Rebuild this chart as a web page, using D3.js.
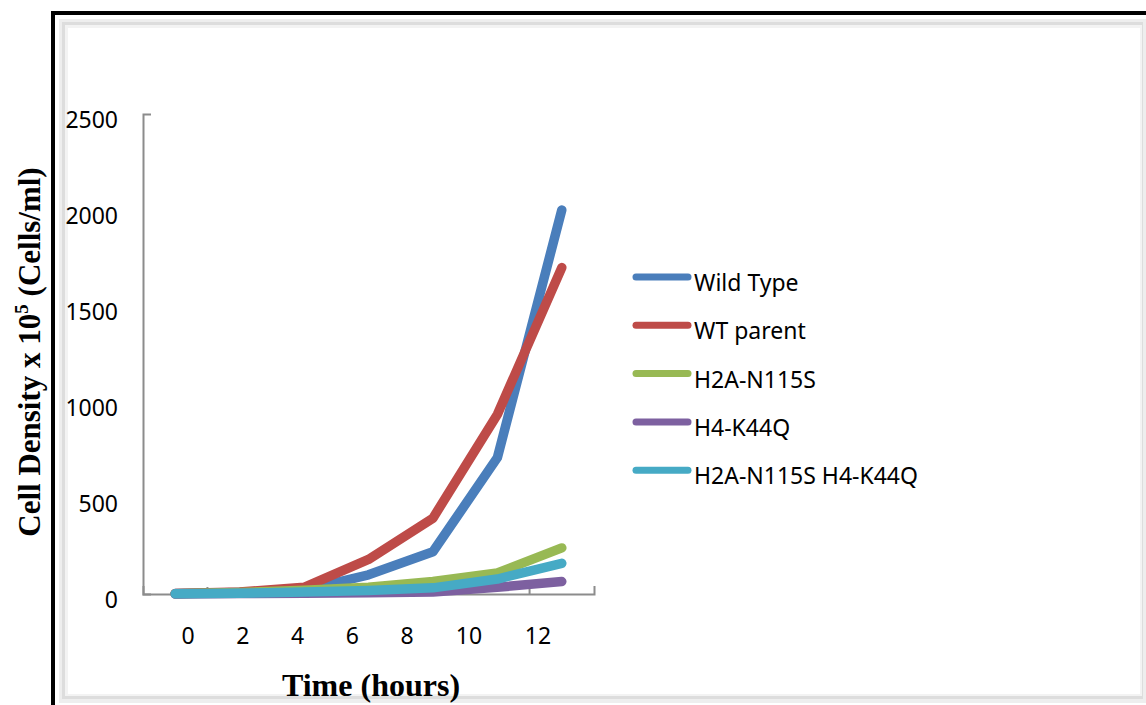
<!DOCTYPE html>
<html>
<head>
<meta charset="utf-8">
<script src="https://cdn.jsdelivr.net/npm/d3@7"></script>
<style>
  body { margin: 0; background: #fff; }
  svg { display: block; }
</style>
</head>
<body>
<svg id="growth_chart"></svg>
<script>
// growth curve data, cell density x 10^5 (cells/ml)
const hours = [0, 2, 4, 6, 8, 10, 12]
const seriesNames = ["Wild Type", "WT parent", "H2A-N115S", "H4-K44Q", "H2A-N115S H4-K44Q"]
const wildType = [2, 8, 20, 100, 220, 710, 2000]
const wtParent = [2, 10, 35, 180, 395, 935, 1700]
const h2aN115S = [1, 8, 20, 35, 65, 110, 240]
const h4K44Q = [0, 2, 4, 6, 10, 35, 65]
const h2aH4 = [1, 4, 10, 18, 32, 78, 160]
const yTicks = [0, 500, 1000, 1500, 2000, 2500]
const seriesColors = ["#4a7ebb", "#be4b48", "#98b954", "#7d60a0", "#46aac5"]

const allSeries = [wildType, wtParent, h2aN115S, h4K44Q, h2aH4]

var W = 1146, H = 705

var svg = d3.select("#growth_chart")
  .attr("width", W)
  .attr("height", H)

// --- frame: black page border + excel style grey chart border
svg.append("rect")
  .attr("x", 53).attr("y", 13)
  .attr("width", W + 20).attr("height", H + 20)
  .attr("fill", "none")
  .attr("stroke", "#000")
  .attr("stroke-width", 4)

svg.append("rect")
  .attr("x", 59).attr("y", 19)
  .attr("width", W - 59).attr("height", 684)
  .attr("fill", "#eeeeee")
svg.append("rect")
  .attr("x", 62).attr("y", 22)
  .attr("width", W - 65).attr("height", 677)
  .attr("fill", "#dddddd")
svg.append("rect")
  .attr("x", 65).attr("y", 25)
  .attr("width", W - 69).attr("height", 671)
  .attr("fill", "#f3f3f3")
svg.append("rect")
  .attr("x", 68).attr("y", 28)
  .attr("width", W - 74).attr("height", 666)
  .attr("fill", "#ffffff")

// --- scales
var x = d3.scaleBand()
  .domain(hours)
  .range([143, 594])

var xLabel = d3.scaleLinear()   // labels sit in a text box, not centred on the points
  .domain([0, 8, 10, 12])
  .range([188, 407, 469, 538])

var y = d3.scaleLinear()
  .domain([0, 2500])
  .range([594, 114])

var cx = d => x(d) + x.bandwidth() / 2

// --- axes
var axisColor = "#8c8c8c"

var yAxis = svg.append("g")
  .attr("class", "yAxis")
  .attr("transform", "translate(143,0)")
  .call(d3.axisLeft(y).tickValues([]).tickSizeOuter(-8))
yAxis.select(".domain").attr("stroke", axisColor).attr("stroke-width", 2)

var xAxis = svg.append("g")
  .attr("class", "xAxis")
  .attr("transform", "translate(0,594)")
  .call(d3.axisBottom(x).tickValues([]).tickSizeOuter(-8))
xAxis.select(".domain").attr("stroke", axisColor).attr("stroke-width", 2)

// the two minor tick marks excel left on the category axis
xAxis.selectAll("line.cat")
  .data([hours[1], hours[6]])
  .enter().append("line")
  .attr("class", "cat")
  .attr("x1", d => x(d)).attr("x2", d => x(d))
  .attr("y1", 0).attr("y2", -7)
  .attr("stroke", axisColor)
  .attr("stroke-width", 2)

// tick labels
svg.append("g").selectAll("text")
  .data(yTicks)
  .enter().append("text")
  .attr("x", 118)
  .attr("y", d => y(d) + 14)
  .attr("text-anchor", "end")
  .attr("font-family", "Noto Sans, sans-serif")
  .attr("font-size", 23)
  .attr("fill", "#000")
  .text(d => d)

svg.append("g").selectAll("text")
  .data(hours)
  .enter().append("text")
  .attr("x", d => xLabel(d))
  .attr("y", 644)
  .attr("text-anchor", "middle")
  .attr("font-family", "Noto Sans, sans-serif")
  .attr("font-size", 23)
  .attr("fill", "#000")
  .text(d => d)

// axis titles
svg.append("text")
  .attr("x", 371)
  .attr("y", 696)
  .attr("text-anchor", "middle")
  .attr("font-family", "Liberation Serif, Times New Roman, serif")
  .attr("font-weight", "bold")
  .attr("font-size", 32)
  .text("Time (hours)")

var yTitle = svg.append("text")
  .attr("transform", "translate(40,352) rotate(-90)")
  .attr("text-anchor", "middle")
  .attr("font-family", "Liberation Serif, Times New Roman, serif")
  .attr("font-weight", "bold")
  .attr("font-size", 31)
yTitle.append("tspan").text("Cell Density x 10")
yTitle.append("tspan").attr("dy", -12).attr("font-size", 19).text("5")
yTitle.append("tspan").attr("dy", 12).text(" (Cells/ml)")

// --- lines
var line = d3.line()
  .x((d, i) => cx(hours[i]))
  .y(d => y(d))

svg.append("g").selectAll("path")
  .data(allSeries)
  .enter().append("path")
  .attr("d", d => line(d))
  .attr("fill", "none")
  .attr("stroke", (d, i) => seriesColors[i])
  .attr("stroke-width", 9.5)
  .attr("stroke-linecap", "round")
  .attr("stroke-linejoin", "round")

// --- legend
var legend = svg.append("g").selectAll("g")
  .data(seriesNames)
  .enter().append("g")
  .attr("transform", (d, i) => "translate(0," + (277 + i * 48.3) + ")")

legend.append("line")
  .attr("x1", 636).attr("x2", 688)
  .attr("y1", 0).attr("y2", 0)
  .attr("stroke", (d, i) => seriesColors[i])
  .attr("stroke-width", 7)
  .attr("stroke-linecap", "round")

legend.append("text")
  .attr("x", 694)
  .attr("y", 14)
  .attr("font-family", "Noto Sans, sans-serif")
  .attr("font-size", 23)
  .attr("fill", "#000")
  .text(d => d)
</script>
</body>
</html>
